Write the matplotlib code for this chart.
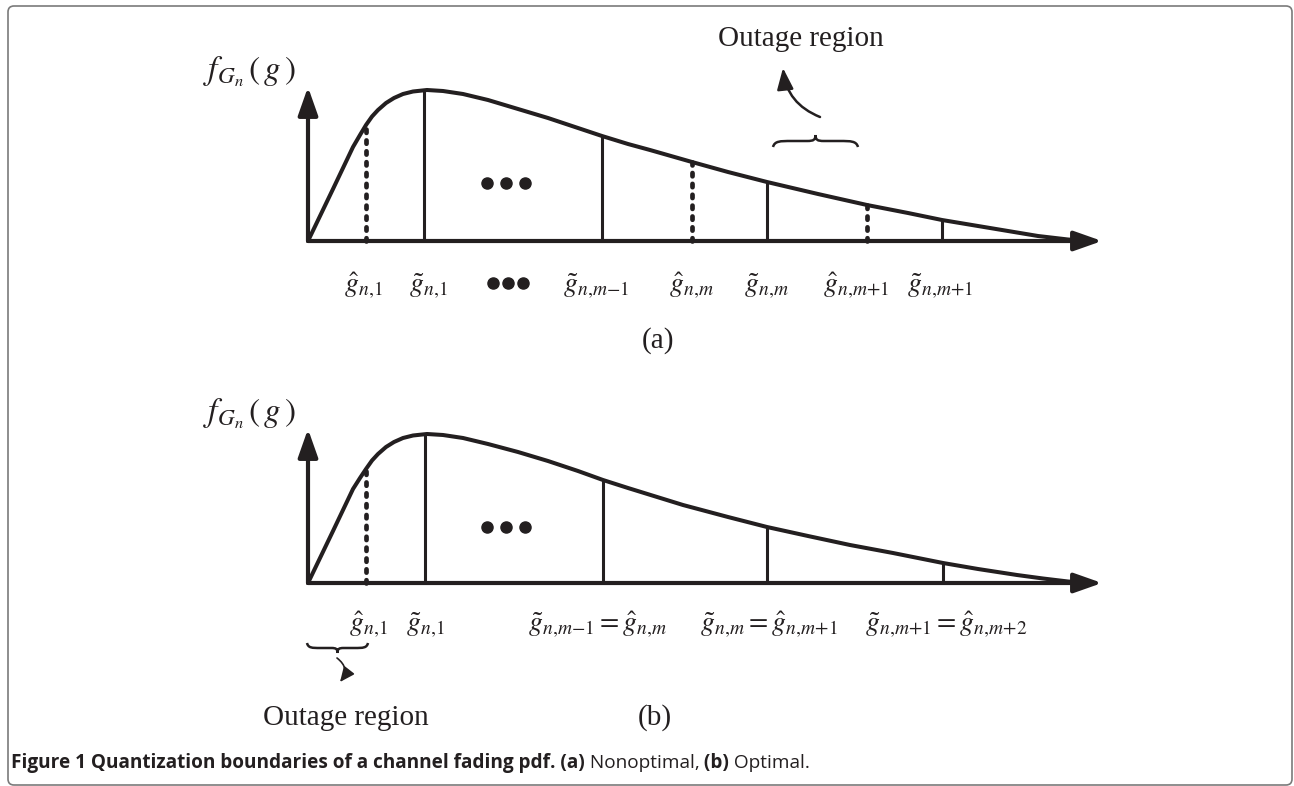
import matplotlib.pyplot as plt
from matplotlib.patches import FancyBboxPatch, PathPatch
from matplotlib.path import Path

plt.rcParams['mathtext.fontset'] = 'stix'
plt.rcParams['font.family'] = ['Liberation Serif', 'DejaVu Serif']

INK = '#231f20'

# ---- panel (a): nonoptimal quantization ----
curve_a_g = [0, 0.25, 0.45, 0.52, 0.58, 0.64, 0.70, 0.78, 0.86, 0.95, 1.05, 1.19,
             1.35, 1.55, 1.80, 2.10, 2.40, 2.70, 2.94, 3.20, 3.42, 3.84, 4.20,
             4.59, 5.10, 5.59, 6.00, 6.34, 6.70, 7.00, 7.30, 7.60, 7.80]
curve_a_f = [0, 0.52, 0.94, 1.06, 1.16, 1.245, 1.31, 1.38, 1.43, 1.47, 1.495, 1.51,
             1.50, 1.47, 1.41, 1.32, 1.23, 1.13, 1.05, 0.97, 0.91, 0.79, 0.69,
             0.59, 0.47, 0.36, 0.28, 0.21, 0.15, 0.10, 0.05, 0.015, 0.0]
solid_a_g = [1.16, 2.94, 4.59, 6.34]
solid_a_f = [1.51, 1.05, 0.59, 0.21]
dashed_a_g = [0.58, 3.84, 5.59]
dashed_a_f = [1.16, 0.79, 0.36]
labels_a = [r'$\hat{g}_{n,\!1}$', r'$\tilde{g}_{n,\!1}$', r'$\tilde{g}_{n,\!m{-}1}$',
            r'$\hat{g}_{n,\!m}$', r'$\tilde{g}_{n,\!m}$', r'$\hat{g}_{n,\!m{+}1}$',
            r'$\tilde{g}_{n,\!m{+}1}$']
labels_a_g = [0.55, 1.20, 2.88, 3.84, 4.59, 5.48, 6.32]

# ---- panel (b): optimal quantization ----
curve_b_g = [0, 0.25, 0.45, 0.52, 0.58, 0.64, 0.70, 0.78, 0.86, 0.95, 1.05, 1.19,
             1.35, 1.55, 1.80, 2.10, 2.40, 2.70, 2.95, 3.20, 3.75, 4.20, 4.59,
             5.00, 5.42, 5.85, 6.35, 6.70, 7.09, 7.35, 7.60, 7.80]
curve_b_f = [0, 0.52, 0.94, 1.05, 1.14, 1.225, 1.29, 1.36, 1.41, 1.45, 1.475, 1.49,
             1.48, 1.45, 1.39, 1.31, 1.22, 1.12, 1.03, 0.95, 0.78, 0.66, 0.56,
             0.47, 0.38, 0.30, 0.20, 0.14, 0.08, 0.045, 0.015, 0.0]
solid_b_g = [1.17, 2.95, 4.59, 6.35]
solid_b_f = [1.49, 1.03, 0.56, 0.20]
dashed_b_g = [0.58]
dashed_b_f = [1.14]
labels_b = [r'$\hat{g}_{n,\!1}$', r'$\tilde{g}_{n,\!1}$',
            r'$\tilde{g}_{n,\!m{-}1}=\hat{g}_{n,\!m}$',
            r'$\tilde{g}_{n,\!m}=\hat{g}_{n,\!m{+}1}$',
            r'$\tilde{g}_{n,\!m{+}1}=\hat{g}_{n,\!m{+}2}$']
labels_b_g = [0.60, 1.17, 2.90, 4.61, 6.38]

dots_g = [1.79, 1.98, 2.17]

W, H = 1294, 786
fig = plt.figure(figsize=(W / 100, H / 100), dpi=100)

# rounded frame around the figure
fig.patches.append(FancyBboxPatch((0.08, 0.01), 12.84, 7.79,
                                  boxstyle='round,pad=0,rounding_size=0.06',
                                  transform=fig.dpi_scale_trans, fc='none',
                                  ec='#7a7a7a', lw=1.2))

axis_arrow = dict(arrowstyle='-|>,head_length=0.85,head_width=0.3',
                  mutation_scale=20, lw=3, color=INK, shrinkA=0, shrinkB=0)


def make_axes(y0):
    ax = fig.add_axes([308 / W, (H - y0) / H, 794 / W, 154 / H])
    ax.set_xlim(0, 7.94)
    ax.set_ylim(0, 1.54)
    ax.axis('off')
    return ax


def brace(ax, x1, x2, y0, h, s):
    w = x2 - x1
    m = (x1 + x2) / 2
    yh = y0 + s * h * 0.5
    verts = [(x1, y0),
             (x1 + 0.02 * w, yh), (x1 + 0.08 * w, yh), (x1 + 0.22 * w, yh),
             (m - 0.1 * w, yh),
             (m - 0.02 * w, yh), (m, yh + s * h * 0.1), (m, y0 + s * h),
             (m, yh + s * h * 0.1), (m + 0.02 * w, yh), (m + 0.1 * w, yh),
             (x2 - 0.22 * w, yh),
             (x2 - 0.08 * w, yh), (x2 - 0.02 * w, yh), (x2, y0)]
    codes = [Path.MOVETO, Path.CURVE4, Path.CURVE4, Path.CURVE4, Path.LINETO,
             Path.CURVE4, Path.CURVE4, Path.CURVE4, Path.CURVE4, Path.CURVE4,
             Path.CURVE4, Path.LINETO, Path.CURVE4, Path.CURVE4, Path.CURVE4]
    ax.add_patch(PathPatch(Path(verts, codes), fc='none', ec=INK, lw=1.8,
                           clip_on=False))


def draw_panel(ax, cg, cf, sg, sf, dg, df, dots_f):
    ax.annotate('', xy=(7.94, 0), xytext=(0, 0), arrowprops=axis_arrow,
                annotation_clip=False)
    ax.annotate('', xy=(0, 1.54), xytext=(0, 0), arrowprops=axis_arrow,
                annotation_clip=False)
    ax.plot(cg, cf, color=INK, lw=2.9, solid_capstyle='round',
            solid_joinstyle='round', clip_on=False)
    ax.vlines(sg, 0, sf, color=INK, lw=2.2, clip_on=False)
    for g, f in zip(dg, df):
        ax.plot([g, g], [0, f], color=INK, lw=3.4, linestyle=(0, (0.7, 1.6)),
                dash_capstyle='round', clip_on=False)
    ax.plot(dots_g, [dots_f] * 3, 'o', color=INK, ms=8, clip_on=False)
    ax.text(-0.58, 1.69, r'$f_{G_n}\,(\,g\,)$', fontsize=24, color=INK,
            ha='center', va='center')


ax_a = make_axes(241)
draw_panel(ax_a, curve_a_g, curve_a_f, solid_a_g, solid_a_f,
           dashed_a_g, dashed_a_f, 0.58)
for lab, g in zip(labels_a, labels_a_g):
    ax_a.text(g, -0.45, lab, fontsize=20, color=INK, ha='center', va='center')
ax_a.plot([1.85, 2.00, 2.15], [-0.42] * 3, 'o', color=INK, ms=8, clip_on=False)
ax_a.text(3.50, -1.00, '(a)', fontsize=21, color=INK, ha='center', va='center')
ax_a.text(4.93, 2.02, 'Outage region', fontsize=21, color=INK,
          ha='center', va='center')
brace(ax_a, 4.65, 5.50, 0.94, 0.12, 1)
ax_a.annotate('', xy=(4.75, 1.73), xytext=(5.12, 1.24), annotation_clip=False,
              arrowprops=dict(arrowstyle='-|>,head_length=0.65,head_width=0.25',
                              mutation_scale=20, lw=1.8, color=INK,
                              shrinkA=0, shrinkB=0,
                              connectionstyle='arc3,rad=-0.3'))

ax_b = make_axes(583)
draw_panel(ax_b, curve_b_g, curve_b_f, solid_b_g, solid_b_f,
           dashed_b_g, dashed_b_f, 0.56)
for lab, g in zip(labels_b, labels_b_g):
    ax_b.text(g, -0.42, lab, fontsize=20, color=INK, ha='center', va='center')
ax_b.text(3.47, -1.35, '(b)', fontsize=21, color=INK, ha='center', va='center')
ax_b.text(0.38, -1.35, 'Outage region', fontsize=21, color=INK,
          ha='center', va='center')
brace(ax_b, -0.01, 0.60, -0.60, 0.10, -1)
ax_b.annotate('', xy=(0.32, -0.99), xytext=(0.29, -0.75), annotation_clip=False,
              arrowprops=dict(arrowstyle='-|>,head_length=0.45,head_width=0.2',
                              mutation_scale=20, lw=1.2, color=INK,
                              shrinkA=0, shrinkB=0,
                              connectionstyle='arc3,rad=-0.5'))

# caption with bold / regular runs
caption = [('Figure 1 Quantization boundaries of a channel fading pdf. (a)', 'bold'),
           (' Nonoptimal,', 'normal'), (' (b)', 'bold'), (' Optimal.', 'normal')]
renderer = fig.canvas.get_renderer()
x = 11 / W
for txt, wt in caption:
    t = fig.text(x, (H - 763) / H, txt, fontsize=13.7, fontweight=wt,
                 family='Open Sans', color=INK, va='center', ha='left')
    bb = t.get_window_extent(renderer=renderer)
    x = bb.x1 / W

fig.savefig('out.png', dpi=100)
